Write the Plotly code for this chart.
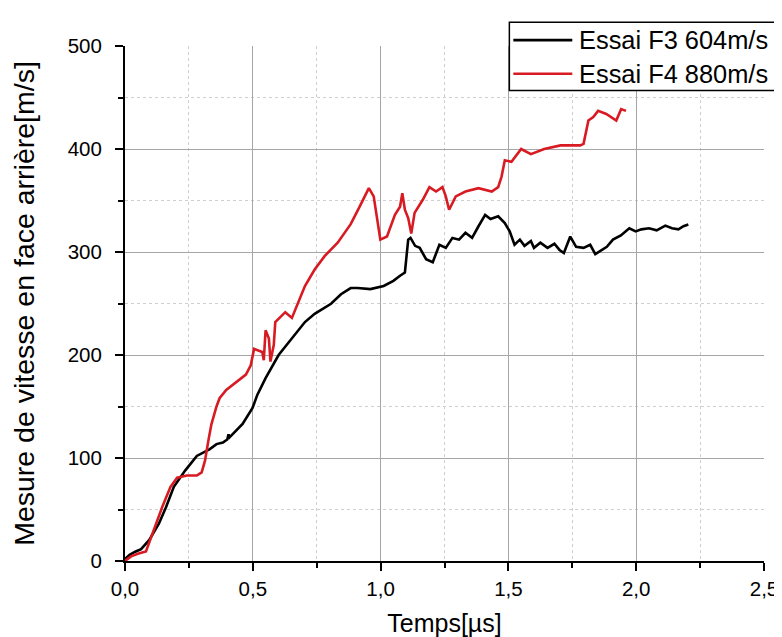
import plotly.graph_objects as go

# ---- data (time in µs, velocity in m/s) ----
f3_name = "Essai F3 604m/s"
f3_t = [0.0, 0.018, 0.04, 0.063, 0.095, 0.133, 0.16, 0.191, 0.236, 0.281, 0.332, 0.358, 0.383, 0.4, 0.405,
        0.409, 0.46, 0.499, 0.518, 0.55, 0.601, 0.653, 0.704, 0.742, 0.806, 0.845, 0.883, 0.91, 0.96,
        1.012, 1.05, 1.076, 1.095, 1.108, 1.117, 1.135, 1.153, 1.178, 1.204, 1.23, 1.255, 1.281, 1.307,
        1.332, 1.358, 1.383, 1.409, 1.43, 1.46, 1.486, 1.505, 1.524, 1.545, 1.563, 1.588, 1.60, 1.625,
        1.653, 1.68, 1.70, 1.717, 1.742, 1.765, 1.794, 1.82, 1.84, 1.858, 1.885, 1.909, 1.94, 1.973,
        1.998, 2.02, 2.05, 2.08, 2.114, 2.14, 2.165, 2.185, 2.204]
f3_v = [2, 6, 9, 11.5, 20.5, 36.5, 52, 72, 88, 102, 108.6, 113.5, 115, 118, 123,
        120, 133, 148.7, 161.5, 177.6, 200, 216, 232, 240, 249.7, 259, 265, 265, 264,
        267, 272, 277, 280, 312, 313.7, 306, 304, 293, 290, 307, 304, 313.7, 312,
        318.6, 313.7, 325, 336, 332, 334.6, 328, 320, 307, 312, 306, 310.6, 304, 309,
        304, 308, 302, 299, 315, 305, 304, 307, 298, 301, 305, 312, 316, 323,
        320, 322, 323, 321, 325.6, 323, 322, 325, 326.6]

f4_name = "Essai F4 880m/s"
f4_t = [0.0, 0.024, 0.05, 0.082, 0.108, 0.146, 0.178, 0.204, 0.242, 0.281, 0.30, 0.313, 0.326, 0.338,
        0.358, 0.37, 0.396, 0.422, 0.473, 0.492, 0.505, 0.537, 0.543, 0.55, 0.563, 0.569, 0.582, 0.588,
        0.627, 0.653, 0.704, 0.742, 0.781, 0.832, 0.883, 0.92, 0.954, 0.973, 0.999, 1.025, 1.056, 1.076,
        1.085, 1.095, 1.108, 1.12, 1.133, 1.165, 1.191, 1.217, 1.242, 1.255, 1.268, 1.294, 1.332, 1.383,
        1.435, 1.46, 1.473, 1.486, 1.512, 1.55, 1.588, 1.64, 1.704, 1.781, 1.794, 1.813, 1.832, 1.851,
        1.883, 1.922, 1.941, 1.96]
f4_v = [0, 4.5, 7, 9.3, 27, 52.6, 72, 80.8, 83, 83, 86, 97.4, 116.6, 132.7,
        150, 158, 166, 171, 181, 190, 206, 203, 195, 224, 216, 193.6, 209.6, 232,
        241.6, 236, 267, 283, 296, 309, 327, 345, 362, 354, 312, 315, 336, 344,
        357, 341, 333, 318, 338, 350.7, 363, 358.7, 363, 354, 341, 354, 358.7, 362,
        358.7, 363, 373, 389, 387.5, 400, 395, 400, 403.5, 403.5, 405, 427.6, 431, 437,
        434, 427.6, 438.7, 437]

x_title = "Temps[µs]"
y_title = "Mesure de vitesse en face arrière[m/s]"

FONT = "Arial, Liberation Sans, sans-serif"
BLACK = "#000000"
RED = "#d81b22"

series = [(f3_name, f3_t, f3_v, BLACK), (f4_name, f4_t, f4_v, RED)]

fig = go.Figure()
for name, t, v, col in series:
    fig.add_trace(go.Scatter(x=t, y=v, mode="lines", name=name,
                             line=dict(color=col, width=2.6)))

axis_common = dict(
    showline=True, linecolor="black", linewidth=2,
    ticks="outside", ticklen=8, tickwidth=2, tickcolor="black",
    showgrid=True, gridcolor="#a6a6a6", gridwidth=1,
    zeroline=False, mirror=False,
    tickfont=dict(family=FONT, size=20.5, color="black"),
)

fig.update_layout(
    width=782, height=637,
    margin=dict(l=117, r=15, t=38, b=79),
    paper_bgcolor="white", plot_bgcolor="white",
    separators=", ",
    font=dict(family=FONT, color="black"),
    showlegend=False,
)
fig.update_xaxes(range=[0, 2.5], dtick=0.5, tickformat=".1f",
                 title=dict(text=x_title, font=dict(family=FONT, size=25), standoff=16),
                 minor=dict(dtick=0.25, ticks="outside", ticklen=5, tickwidth=2, tickcolor="black",
                            showgrid=True, gridcolor="#cfcfcf", griddash="dot", gridwidth=1),
                 **axis_common)
fig.update_yaxes(range=[0, 500], dtick=100,
                 ticklabelstandoff=9,
                 title=dict(text=y_title, font=dict(family=FONT, size=28.5), standoff=27),
                 minor=dict(dtick=50, ticks="outside", ticklen=5, tickwidth=2, tickcolor="black",
                            showgrid=True, gridcolor="#cfcfcf", griddash="dot", gridwidth=1),
                 **axis_common)

# ---- legend box (top right, running past the right edge as in the reference) ----
fig.add_shape(type="rect", xref="paper", yref="paper",
              x0=0.6015, x1=1.05, y0=0.9135, y1=1.0462,
              fillcolor="white", line=dict(color="black", width=1.5), layer="above")
row_y = [1.0115, 0.9462]
for (name, _, _, col), ry in zip(series, row_y):
    fig.add_shape(type="line", xref="paper", yref="paper",
                  x0=0.6077, x1=0.70, y0=ry, y1=ry,
                  line=dict(color=col, width=2.6), layer="above")
    fig.add_annotation(xref="paper", yref="paper", x=0.707, y=ry,
                       xanchor="left", yanchor="middle", showarrow=False,
                       text=name, font=dict(family=FONT, size=25.4, color="black"))

fig.write_html("out.html")
